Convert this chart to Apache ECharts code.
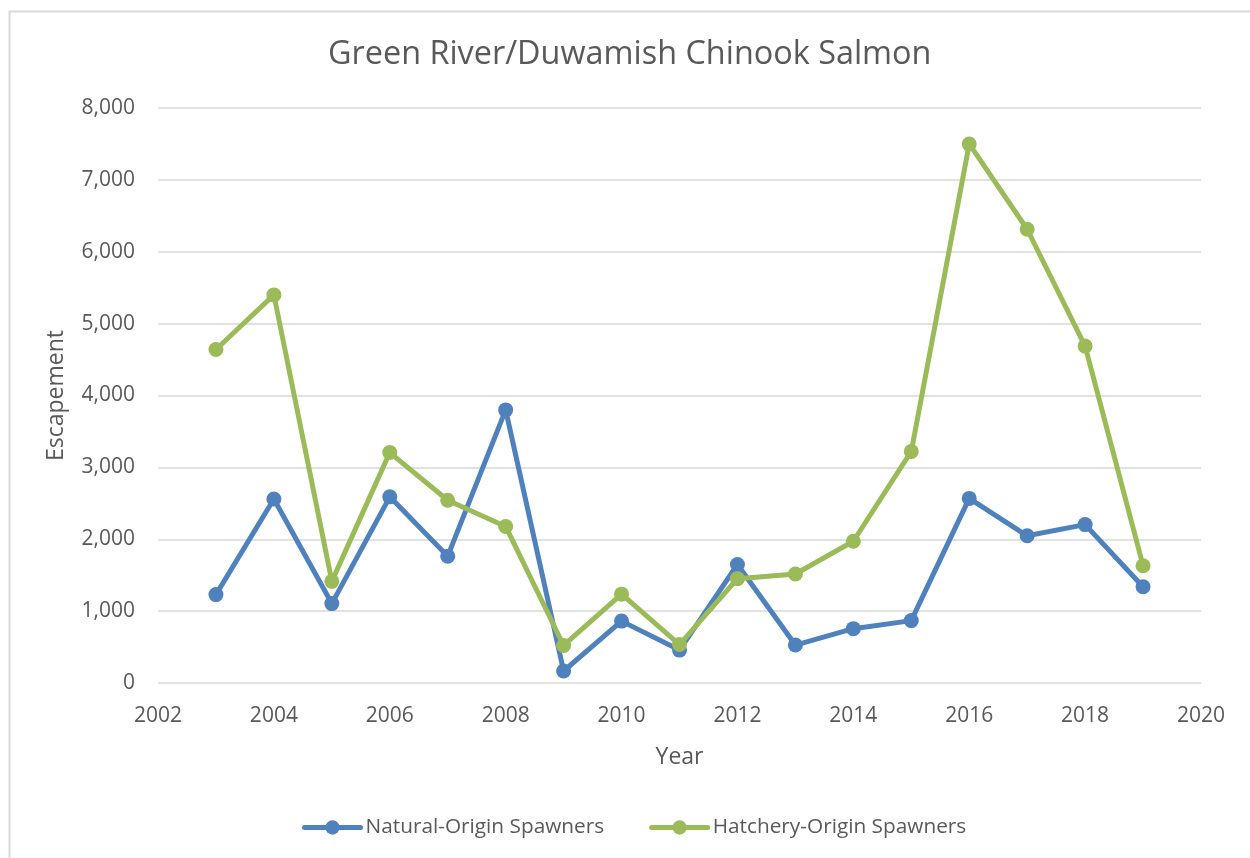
<!DOCTYPE html>
<html>
<head>
<meta charset="utf-8">
<script src="https://cdn.jsdelivr.net/npm/echarts@6/dist/echarts.min.js"></script>
<style>
html,body{margin:0;padding:0;background:#fff;}
#chart{width:1250px;height:858px;}
</style>
</head>
<body>
<div id="chart"></div>
<script>
var years = [2003,2004,2005,2006,2007,2008,2009,2010,2011,2012,2013,2014,2015,2016,2017,2018,2019];
var naturalOrigin = [1230,2560,1105,2590,1765,3800,167,861,458,1649,528,756,868,2568,2048,2204,1340];
var hatcheryOrigin = [4640,5400,1414,3206,2542,2178,522,1236,535,1452,1517,1972,3222,7500,6313,4687,1632];
var seriesNames = ['Natural-Origin Spawners','Hatchery-Origin Spawners'];
var titleText = 'Green River/Duwamish Chinook Salmon';
var xAxisName = 'Year';
var yAxisName = 'Escapement';

function pairs(xs, ys){ return xs.map(function(x,i){ return [x, ys[i]]; }); }

var FONT = '"Open Sans", "DejaVu Sans", sans-serif';
var TXT = '#595959';

var chart = echarts.init(document.getElementById('chart'), null, {renderer:'canvas'});
chart.setOption({
  animation:false,
  backgroundColor:'#ffffff',
  textStyle:{fontFamily:FONT},
  title:{
    text:titleText, left:328, top:39, padding:0,
    textStyle:{fontFamily:FONT, fontSize:32.4, fontWeight:'normal', color:TXT}
  },
  graphic:[{
    type:'rect', left:7, top:9, silent:true,
    shape:{x:0,y:0,width:1300,height:900},
    style:{fill:'none', stroke:'#D9D9D9', lineWidth:2}
  }],
  grid:{left:158, right:49, top:108, bottom:175, containLabel:false},
  legend:{
    data:seriesNames, bottom:20, left:302, padding:0,
    itemWidth:56, itemHeight:18, itemGap:45,
    lineStyle:{width:5},
    textStyle:{fontFamily:FONT, fontSize:20.8, color:TXT}
  },
  xAxis:{
    type:'value', min:2002, max:2020, interval:2,
    name:xAxisName, nameLocation:'middle', nameGap:63,
    nameTextStyle:{fontFamily:FONT, fontSize:23, color:TXT},
    axisLine:{show:false}, axisTick:{show:false}, splitLine:{show:false},
    axisLabel:{fontFamily:FONT, fontSize:21, color:TXT, margin:23, formatter:function(v){return String(v);}}
  },
  yAxis:{
    type:'value', min:0, max:8000, interval:1000,
    name:yAxisName, nameLocation:'middle', nameGap:90, nameRotate:90,
    nameTextStyle:{fontFamily:FONT, fontSize:23, color:TXT},
    axisLine:{show:false}, axisTick:{show:false},
    splitLine:{show:true, lineStyle:{color:'#D9D9D9', width:1.5}},
    axisLabel:{fontFamily:FONT, fontSize:21, color:TXT, margin:23, formatter:function(v){return v.toLocaleString('en-US');}}
  },
  series:[
    {
      name:seriesNames[0], type:'line', data:pairs(years, naturalOrigin),
      symbol:'circle', symbolSize:15, showAllSymbol:true,
      lineStyle:{color:'#4F81BD', width:5, cap:'round', join:'round'},
      itemStyle:{color:'#4F81BD'}
    },
    {
      name:seriesNames[1], type:'line', data:pairs(years, hatcheryOrigin),
      symbol:'circle', symbolSize:15, showAllSymbol:true,
      lineStyle:{color:'#9BBB59', width:5, cap:'round', join:'round'},
      itemStyle:{color:'#9BBB59'}
    }
  ]
});
</script>
</body>
</html>
